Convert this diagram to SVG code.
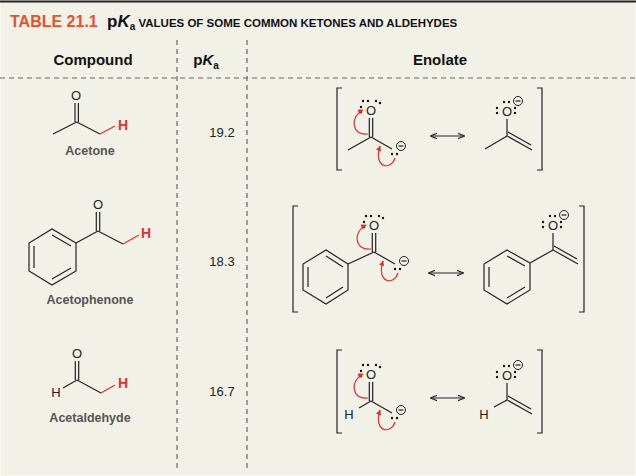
<svg xmlns="http://www.w3.org/2000/svg" xmlns:xlink="http://www.w3.org/1999/xlink" width="636" height="476" viewBox="0 0 636 476">
<defs>
<style>
.b{stroke:#222;stroke-width:1.2;fill:none}
.r{stroke:#e03030;stroke-width:1.2;fill:none}
.dash{stroke:#666;stroke-width:1.2;stroke-dasharray:5,4;fill:none}
.lbl{font-family:"Liberation Sans",Arial,sans-serif;font-weight:bold;font-size:12.5px;fill:#555;text-anchor:middle}
.at{font-family:"Liberation Sans",Arial,sans-serif;font-size:13px;fill:#222;text-anchor:middle}
.hd{font-family:"Liberation Sans",Arial,sans-serif;font-weight:bold;font-size:15px;fill:#111;text-anchor:middle}
.hr{font-family:"Liberation Sans",Arial,sans-serif;font-weight:bold;font-size:14px;fill:#e03030;text-anchor:middle}
.num{font-family:"Liberation Sans",Arial,sans-serif;font-size:13px;fill:#222;text-anchor:middle}
.d{fill:#111}
</style>
<marker id="ah" viewBox="0 0 10 10" refX="9" refY="5" markerWidth="4.5" markerHeight="4.5" orient="auto"><path d="M0,0L10,5L0,10z" fill="#e03030"/></marker>
<marker id="ka" viewBox="0 0 10 10" refX="9" refY="5" markerWidth="6" markerHeight="6" orient="auto-start-reverse"><path d="M0,1L10,5L0,9" fill="none" stroke="#222" stroke-width="1.5"/></marker>
<g id="lp">
<circle class="d" cx="-8" cy="-9" r="1.2"/><circle class="d" cx="-3" cy="-9" r="1.2"/>
<circle class="d" cx="-10" cy="-3" r="1.2"/><circle class="d" cx="-10" cy="2" r="1.2"/>
<circle class="d" cx="5" cy="-9" r="1.2"/><circle class="d" cx="9" cy="-7" r="1.2"/>
</g>
<g id="minus"><circle r="4.5" fill="none" stroke="#222" stroke-width="1"/><line x1="-2.5" y1="0" x2="2.5" y2="0" stroke="#222" stroke-width="1.2"/></g>
<g id="ketoL">
<text class="at" x="0" y="5">O</text>
<use xlink:href="#lp"/>
<path class="b" d="M-1.7,8V27M1.7,8V27M0,27L21,39"/>
<use xlink:href="#minus" x="30" y="36"/>
<circle class="d" cx="21" cy="44" r="1.2"/><circle class="d" cx="26" cy="44" r="1.2"/>
<path class="r" d="M-3,24C-20,26 -21,6 -8,0" marker-end="url(#ah)"/>
<path class="r" d="M24,48C20,61 2,58 9,36" marker-end="url(#ah)"/>
</g>
<g id="enolR">
<text class="at" x="0" y="5">O</text>
<circle class="d" cx="-10" cy="-3" r="1.2"/><circle class="d" cx="-10" cy="2" r="1.2"/>
<circle class="d" cx="-3" cy="-9" r="1.2"/><circle class="d" cx="2" cy="-9" r="1.2"/>
<circle class="d" cx="8" cy="-3" r="1.2"/><circle class="d" cx="8" cy="2" r="1.2"/>
<use xlink:href="#minus" x="11" y="-10"/>
<path class="b" d="M0,8V25L25,39M1,21L24,34"/>
</g>
</defs>
<rect x="0.5" y="0.5" width="635" height="475" fill="#f2f1e7"/>
<line x1="0" y1="1.5" x2="636" y2="1.5" stroke="#222" stroke-width="2"/>
<g id="title">
<text x="10" y="27" font-family="Liberation Sans,Arial,sans-serif" font-weight="bold" font-size="16" fill="#e8502e">TABLE 21.1</text>
<text x="107" y="27" font-family="Liberation Sans,Arial,sans-serif" font-weight="bold" font-size="17" fill="#111">p<tspan font-style="italic">K</tspan><tspan font-size="10" dy="3">a</tspan><tspan font-size="11.5" dy="-3"> VALUES OF SOME COMMON KETONES AND ALDEHYDES</tspan></text>
</g>
<g id="headers">
<text class="hd" x="93" y="65">Compound</text>
<text class="hd" x="206" y="65">p<tspan font-style="italic">K</tspan><tspan font-size="10" dy="4">a</tspan></text>
<text class="hd" x="440" y="65">Enolate</text>
</g>
<g id="grid">
<path class="dash" d="M0,78H636M177,40V470M247,40V470"/>
</g>
<g id="acetone">
<text class="at" x="76" y="100">O</text>
<path class="b" d="M75,103V122M78.4,103V122M76.7,122L53,134M76.7,122L100,134"/>
<path class="r" d="M100,134L115,126"/>
<text class="hr" x="123" y="130">H</text>
<text class="lbl" x="90" y="155">Acetone</text>
</g>
<g id="acetophenone">
<text class="at" x="98" y="209">O</text>
<path class="b" d="M96.3,212V231M99.7,212V231M98,231L123,244M98,231L76,243"/>
<path class="b" d="M76,243L52,229L29,243V271L52,285L76,271Z M71,246L52,235M34,246V268M52,279L71,268"/>
<path class="r" d="M123,244L139,235"/>
<text class="hr" x="146" y="238">H</text>
<text class="lbl" x="90" y="304">Acetophenone</text>
</g>
<g id="acetaldehyde">
<text class="at" x="77" y="358">O</text>
<path class="b" d="M75.3,361V380M78.7,361V380M77,380L63,388M77,380L101,393"/>
<text class="at" x="56" y="397">H</text>
<path class="r" d="M101,393L115,385"/>
<text class="hr" x="123" y="388">H</text>
<text class="lbl" x="90" y="422">Acetaldehyde</text>
</g>
<g id="pka">
<text class="num" x="222" y="137">19.2</text>
<text class="num" x="222" y="266">18.3</text>
<text class="num" x="222" y="396">16.7</text>
</g>
<g id="enolate-acetone">
<path class="b" d="M342,88H337V170H342M537,88H542V170H537"/>
<use xlink:href="#ketoL" x="371" y="110"/>
<path class="b" d="M371,137L348,150"/>
<use xlink:href="#enolR" x="507" y="111"/>
<path class="b" d="M507,136L485,149"/>
</g>
<g id="enolate-acetophenone">
<path class="b" d="M298,206H293V312H298M579,206H584V312H579"/>
<use xlink:href="#ketoL" x="374" y="225"/>
<path class="b" d="M374,252L348,264"/>
<path class="b" d="M348,264L326,250L303,264V290L326,304L348,290Z M343,267L326,256M308,267V287M326,298L343,287"/>
<use xlink:href="#enolR" x="553" y="225"/>
<path class="b" d="M553,250L530,263"/>
<path class="b" d="M530,263L507,250L484,264V290L507,304L530,290Z M525,266L507,256M489,267V287M507,298L525,287"/>
</g>
<g id="enolate-acetaldehyde">
<path class="b" d="M342,350H337V433H342M537,350H542V433H537"/>
<use xlink:href="#ketoL" x="371" y="374"/>
<path class="b" d="M371,401L359,408"/>
<text class="at" x="349" y="419">H</text>
<use xlink:href="#enolR" x="507" y="375"/>
<path class="b" d="M507,400L494,407"/>
<text class="at" x="484" y="419">H</text>
</g>
<g id="connectors">
<line class="b" x1="431" y1="136" x2="464" y2="136" marker-start="url(#ka)" marker-end="url(#ka)"/>
<line class="b" x1="429" y1="273" x2="463" y2="273" marker-start="url(#ka)" marker-end="url(#ka)"/>
<line class="b" x1="431" y1="398" x2="464" y2="398" marker-start="url(#ka)" marker-end="url(#ka)"/>
</g>
</svg>
